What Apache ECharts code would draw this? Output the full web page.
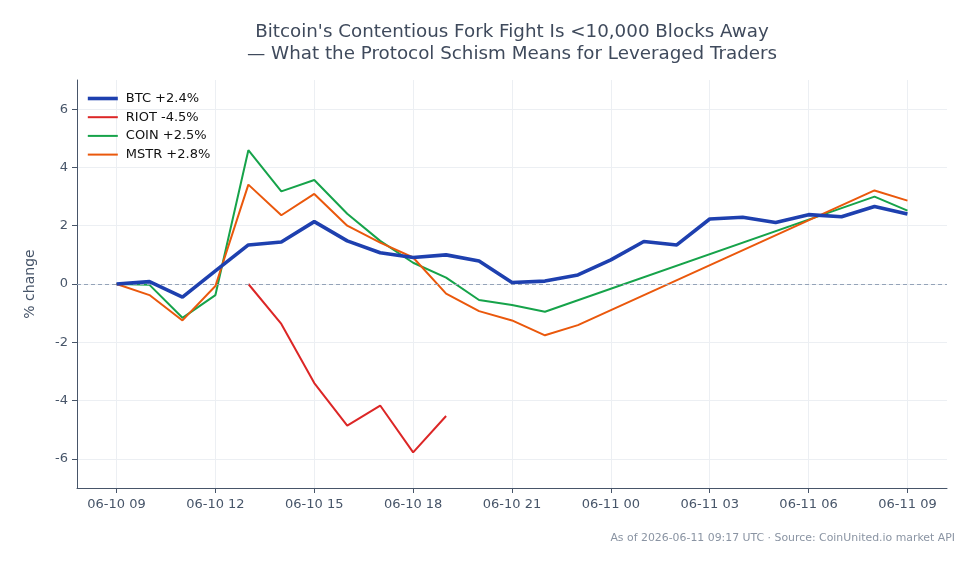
<!DOCTYPE html>
<html>
<head>
<meta charset="utf-8">
<script src="https://cdn.jsdelivr.net/npm/echarts@6/dist/echarts.min.js"></script>
<style>html,body{margin:0;padding:0;background:#fff}#c{width:979px;height:564px}</style>
</head>
<body>
<div id="c"></div>
<script>
// hours since 2026-06-10 09:00 UTC
const hours = [0,1,2,3,4,5,6,7,8,9,10,11,12,13,14,15,16,17,18,19,20,21,22,23,24];
const tickHours = [0,3,6,9,12,15,18,21,24];
const tickLabels = ['06-10 09','06-10 12','06-10 15','06-10 18','06-10 21','06-11 00','06-11 03','06-11 06','06-11 09'];
const yTicks = [-6,-4,-2,0,2,4,6];

const btc  = [0,0.08,-0.45,0.45,1.34,1.44,2.14,1.48,1.07,0.91,1.0,0.79,0.05,0.1,0.31,0.83,1.46,1.34,2.23,2.29,2.11,2.38,2.31,2.66,2.40];
const riot = [null,null,null,null,0,-1.37,-3.4,-4.86,-4.17,-5.78,-4.53,null,null,null,null,null,null,null,null,null,null,null,null,null,null];
const coin = [0,-0.03,-1.16,-0.38,4.59,3.18,3.57,2.41,1.48,0.73,0.22,-0.55,-0.72,-0.95,null,null,null,null,null,null,null,null,null,3.0,2.52];
const mstr = [0,-0.38,-1.25,-0.07,3.41,2.36,3.09,2.0,1.42,0.91,-0.33,-0.93,-1.25,-1.76,-1.41,null,null,null,null,null,null,null,null,3.21,2.86];

const names = ['BTC +2.4%','RIOT -4.5%','COIN +2.5%','MSTR +2.8%'];
const colors = ['#1e40af','#dc2626','#16a34a','#ea580c'];
const widths = [3.6, 2, 2, 2];

const pair = arr => hours.map((h,i) => [h, arr[i]]);
const font = 'DejaVu Sans';
const axisCol = '#475569';

const chart = echarts.init(document.getElementById('c'), null, {renderer:'canvas'});
chart.setOption({
  animation: false,
  backgroundColor: '#fff',
  textStyle: {fontFamily: font},
  title: [{
    text: "Bitcoin's Contentious Fork Fight Is <10,000 Blocks Away\n— What the Protocol Schism Means for Leveraged Traders",
    left: 507, top: 17, textAlign: 'center',
    textStyle: {fontFamily: font, fontSize: 18.3, fontWeight: 'normal', color: '#3f4a5c', lineHeight: 21.5}
  },{
    text: 'As of 2026-06-11 09:17 UTC · Source: CoinUnited.io market API',
    right: 19, top: 528,
    textStyle: {fontFamily: font, fontSize: 10.9, fontWeight: 'normal', color: '#8a94a3'}
  }],
  legend: {
    orient: 'vertical', left: 81, top: 87, itemWidth: 30, itemHeight: 14, itemGap: 5.7,
    textStyle: {fontFamily: font, fontSize: 13, color: '#111', padding: [0,0,0,3]},
    itemStyle: {opacity: 0},
    data: names.map((n,i) => ({name: n, lineStyle: {width: widths[i], color: colors[i]}}))
  },
  grid: {left: 77, right: 32, top: 80, bottom: 76},
  xAxis: {
    type: 'value', min: -1.2, max: 25.2,
    axisLine: {show: true, onZero: false, lineStyle: {color: axisCol, width: 1}},
    axisTick: {show: true, length: 5, lineStyle: {color: axisCol}, customValues: tickHours},
    axisLabel: {customValues: tickHours, margin: 10, fontSize: 13, color: axisCol, fontFamily: font,
      formatter: v => tickLabels[tickHours.indexOf(Math.round(v))] || ''},
    splitLine: {show: true, lineStyle: {color: '#eceff3', width: 1}}
  },
  yAxis: {
    type: 'value', min: -7, max: 7,
    name: '% change', nameLocation: 'middle', nameGap: 40,
    nameTextStyle: {fontFamily: font, fontSize: 14, color: axisCol},
    axisLine: {show: true, onZero: false, lineStyle: {color: axisCol, width: 1}},
    axisTick: {show: true, length: 5, lineStyle: {color: axisCol}, customValues: yTicks},
    axisLabel: {customValues: yTicks, margin: 9, fontSize: 13, color: axisCol, fontFamily: font},
    splitLine: {show: true, lineStyle: {color: '#eceff3', width: 1}}
  },
  series: [
    {name: names[0], type: 'line', data: pair(btc), showSymbol: false, symbol: 'none', z: 5,
      lineStyle: {color: colors[0], width: widths[0]}, itemStyle: {color: colors[0]},
      markLine: {silent: true, symbol: 'none', label: {show: false},
        lineStyle: {color: '#94a3b8', type: [4,3], width: 1}, data: [{yAxis: 0}]}},
    {name: names[1], type: 'line', data: pair(riot), showSymbol: false, symbol: 'none',
      lineStyle: {color: colors[1], width: widths[1]}, itemStyle: {color: colors[1]}},
    {name: names[2], type: 'line', data: pair(coin), showSymbol: false, symbol: 'none', connectNulls: true,
      lineStyle: {color: colors[2], width: widths[2]}, itemStyle: {color: colors[2]}},
    {name: names[3], type: 'line', data: pair(mstr), showSymbol: false, symbol: 'none', connectNulls: true,
      lineStyle: {color: colors[3], width: widths[3]}, itemStyle: {color: colors[3]}}
  ]
});
</script>
</body>
</html>
